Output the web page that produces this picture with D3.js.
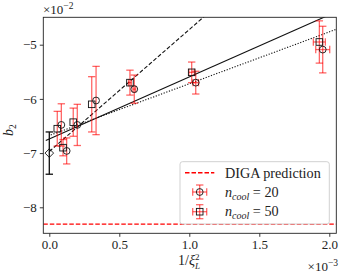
<!DOCTYPE html>
<html lang="en">
<head>
    <meta charset="UTF-8">
    <title>b2 vs 1/xi_L^2</title>
    <script src="https://d3js.org/d3.v7.min.js"></script>
    <style>
        body { margin: 0; background: #fff; }
        text { font-family: "Liberation Serif", "Times New Roman", serif; fill: #222; }
        .axis path, .axis line { stroke: #222; stroke-width: 0.9; }
        .ebar { stroke: red; stroke-opacity: 0.6; stroke-width: 1.3; fill: none; }
    </style>
</head>
<body>
    <svg id="chart" width="343" height="275"></svg>
    <script>
        // values in units of 1e-3 (x) and 1e-2 (y), as shown on the axes
        const x20  = [0.086, 0.124, 0.200, 0.334, 0.607, 1.046, 1.953];
        const y20  = [-6.48, -6.96, -6.48, -6.03, -5.82, -5.70, -5.09];
        const ey20 = [0.39, 0.24, 0.38, 0.63, 0.26, 0.21, 0.43];
        const ex20 = [0.0, 0.0, 0.0, 0.0, 0.01, 0.02, 0.05];

        const x50  = [0.057, 0.098, 0.171, 0.303, 0.576, 1.017, 1.929];
        const y50  = [-6.55, -6.90, -6.43, -6.10, -5.70, -5.51, -4.95];
        const ey50 = [0.32, 0.15, 0.26, 0.51, 0.23, 0.19, 0.39];
        const ex50 = [0.0, 0.0, 0.0, 0.0, 0.01, 0.02, 0.043];

        // extrapolated point at 1/xi^2 = 0
        const xDia = 0.0, yDia = -7.0, eyDia = 0.39;

        // fit lines: [intercept, slope]
        const fitSolid  = [-6.74, 1.145];
        const fitDotted = [-6.676, 0.956];
        const fitDashed = [-6.97, 2.25];

        const digaValue = -8.31;

        const xTicks = [0, 0.5, 1.0, 1.5, 2.0];
        const yTicks = [-8, -7, -6, -5];

        const margin = {top: 17.3, right: 6.7, bottom: 41.7, left: 43.3},
              W = 343, H = 275;

        const svg = d3.select("#chart");

        const x = d3.scaleLinear().domain([-0.0429, 2.05]).range([margin.left, W - margin.right]);
        const y = d3.scaleLinear().domain([-8.48, -4.4945]).range([H - margin.bottom, margin.top]);

        svg.append("defs").append("clipPath").attr("id", "clip")
            .append("rect")
            .attr("x", margin.left).attr("y", margin.top)
            .attr("width", W - margin.left - margin.right)
            .attr("height", H - margin.top - margin.bottom);

        const plot = svg.append("g").attr("clip-path", "url(#clip)");

        // DIGA prediction
        plot.append("line")
            .attr("x1", x.range()[0]).attr("x2", x.range()[1])
            .attr("y1", y(digaValue)).attr("y2", y(digaValue))
            .attr("stroke", "red").attr("stroke-width", 1.4)
            .attr("stroke-dasharray", "4.5,2");

        // fit lines
        const line = d3.line().x(d => x(d[0])).y(d => y(d[1]));
        function drawFit(fit, x0, x1, dash) {
            plot.append("path")
                .datum([[x0, fit[0] + fit[1] * x0], [x1, fit[0] + fit[1] * x1]])
                .attr("d", line)
                .attr("fill", "none")
                .attr("stroke", "#111")
                .attr("stroke-width", 1.1)
                .attr("stroke-dasharray", dash);
        }
        drawFit(fitSolid, -0.025, 2.2, null);
        drawFit(fitDotted, 0.01, 2.2, "1.2,1.6");
        drawFit(fitDashed, 0.0, 2.2, "4,2");

        // error bars
        const cap = 3.7;
        function errorBar(g, cx, cy, ex, ey, cls, color) {
            const e = g.append("g").attr("class", cls);
            if (color) e.style("stroke", color).style("stroke-opacity", 1);
            e.append("line").attr("x1", x(cx)).attr("x2", x(cx)).attr("y1", y(cy - ey)).attr("y2", y(cy + ey));
            e.append("line").attr("x1", x(cx) - cap).attr("x2", x(cx) + cap).attr("y1", y(cy - ey)).attr("y2", y(cy - ey));
            e.append("line").attr("x1", x(cx) - cap).attr("x2", x(cx) + cap).attr("y1", y(cy + ey)).attr("y2", y(cy + ey));
            if (ex > 0) {
                e.append("line").attr("x1", x(cx - ex)).attr("x2", x(cx + ex)).attr("y1", y(cy)).attr("y2", y(cy));
                e.append("line").attr("x1", x(cx - ex)).attr("x2", x(cx - ex)).attr("y1", y(cy) - cap).attr("y2", y(cy) + cap);
                e.append("line").attr("x1", x(cx + ex)).attr("x2", x(cx + ex)).attr("y1", y(cy) - cap).attr("y2", y(cy) + cap);
            }
        }

        const pts = svg.append("g");
        x20.forEach((v, i) => errorBar(pts, v, y20[i], ex20[i], ey20[i], "ebar"));
        x50.forEach((v, i) => errorBar(pts, v, y50[i], ex50[i], ey50[i], "ebar"));
        errorBar(pts, xDia, yDia, 0, eyDia, "ebar", "#111");

        // markers
        pts.selectAll("circle.m20").data(x20).join("circle")
            .attr("cx", d => x(d)).attr("cy", (d, i) => y(y20[i])).attr("r", 3.4)
            .attr("fill", "none").attr("stroke", "#111").attr("stroke-width", 0.9);
        pts.selectAll("rect.m50").data(x50).join("rect")
            .attr("x", d => x(d) - 3.3).attr("y", (d, i) => y(y50[i]) - 3.3)
            .attr("width", 6.6).attr("height", 6.6)
            .attr("fill", "none").attr("stroke", "#111").attr("stroke-width", 0.9);
        pts.append("path")
            .attr("d", `M${x(xDia)},${y(yDia) - 4.3}L${x(xDia) + 4.3},${y(yDia)}L${x(xDia)},${y(yDia) + 4.3}L${x(xDia) - 4.3},${y(yDia)}Z`)
            .attr("fill", "none").attr("stroke", "#111").attr("stroke-width", 0.9);

        // axes
        const xAxis = svg.append("g").attr("class", "axis")
            .attr("transform", `translate(0,${H - margin.bottom})`)
            .call(d3.axisBottom(x).tickValues(xTicks).tickFormat(d3.format(".1f")).tickSize(3.5).tickPadding(3));
        const yAxis = svg.append("g").attr("class", "axis")
            .attr("transform", `translate(${margin.left},0)`)
            .call(d3.axisLeft(y).tickValues(yTicks).tickFormat(d => "\u2212" + Math.abs(d)).tickSize(3.5).tickPadding(3));
        svg.selectAll(".axis text").attr("font-size", 13).attr("fill", "#222");
        xAxis.select(".domain").remove();
        yAxis.select(".domain").remove();

        // frame
        svg.append("rect")
            .attr("x", margin.left).attr("y", margin.top)
            .attr("width", W - margin.left - margin.right)
            .attr("height", H - margin.top - margin.bottom)
            .attr("fill", "none").attr("stroke", "#222").attr("stroke-width", 0.9);

        // axis labels
        const xl = svg.append("text").attr("x", 189).attr("y", 265).attr("text-anchor", "middle").attr("font-size", 14);
        xl.append("tspan").text("1/");
        xl.append("tspan").attr("font-style", "italic").text("\u03BE");
        xl.append("tspan").attr("font-size", 9).attr("dy", -5).text("2");
        xl.append("tspan").attr("font-size", 9).attr("font-style", "italic").attr("dx", -4.5).attr("dy", 8.5).text("L");

        const yl = svg.append("text").attr("transform", "translate(13,130) rotate(-90)")
            .attr("text-anchor", "middle").attr("font-size", 14);
        yl.append("tspan").attr("font-style", "italic").text("b");
        yl.append("tspan").attr("font-size", 9.5).attr("dy", 3).text("2");

        // offset texts
        const oy = svg.append("text").attr("x", 43).attr("y", 13.5).attr("font-size", 13);
        oy.append("tspan").text("\u00D710");
        oy.append("tspan").attr("font-size", 9.5).attr("dy", -5).text("\u22122");
        const ox = svg.append("text").attr("x", 338).attr("y", 271).attr("font-size", 13).attr("text-anchor", "end");
        ox.append("tspan").text("\u00D710");
        ox.append("tspan").attr("font-size", 9.5).attr("dy", -5).text("\u22123");

        // legend
        const lg = svg.append("g");
        lg.append("rect").attr("x", 180).attr("y", 161.7).attr("width", 149.3).attr("height", 62.3)
            .attr("rx", 2.5).attr("fill", "#fff").attr("fill-opacity", 0.85)
            .attr("stroke", "#ccc").attr("stroke-width", 0.9);
        lg.append("line").attr("x1", 185).attr("x2", 214.3).attr("y1", 172.7).attr("y2", 172.7)
            .attr("stroke", "red").attr("stroke-width", 1.4).attr("stroke-dasharray", "4.5,2");
        const lx = x.invert(199.7);
        const legendRows = [192, 211.7];
        legendRows.forEach((py, k) => {
            const cy = y.invert(py);
            const ey = y.invert(py - 7) - cy;
            const ex = x.invert(199.7 + 7) - lx;
            errorBar(lg, lx, cy, ex, ey, "ebar");
            if (k === 0) {
                lg.append("circle").attr("cx", 199.7).attr("cy", py).attr("r", 3.4)
                    .attr("fill", "none").attr("stroke", "#111").attr("stroke-width", 0.9);
            } else {
                lg.append("rect").attr("x", 196.4).attr("y", py - 3.3).attr("width", 6.6).attr("height", 6.6)
                    .attr("fill", "none").attr("stroke", "#111").attr("stroke-width", 0.9);
            }
        });
        lg.append("text").attr("x", 225).attr("y", 177.5).attr("font-size", 14.2).text("DIGA prediction");
        const nVals = ["20", "50"];
        legendRows.forEach((py, k) => {
            const t = lg.append("text").attr("x", 225).attr("y", py + 4.5).attr("font-size", 14.2);
            t.append("tspan").attr("font-style", "italic").text("n");
            t.append("tspan").attr("font-size", 10).attr("font-style", "italic").attr("dy", 3).text("cool");
            t.append("tspan").attr("dy", -3).text(" = " + nVals[k]);
        });
    </script>
</body>
</html>
